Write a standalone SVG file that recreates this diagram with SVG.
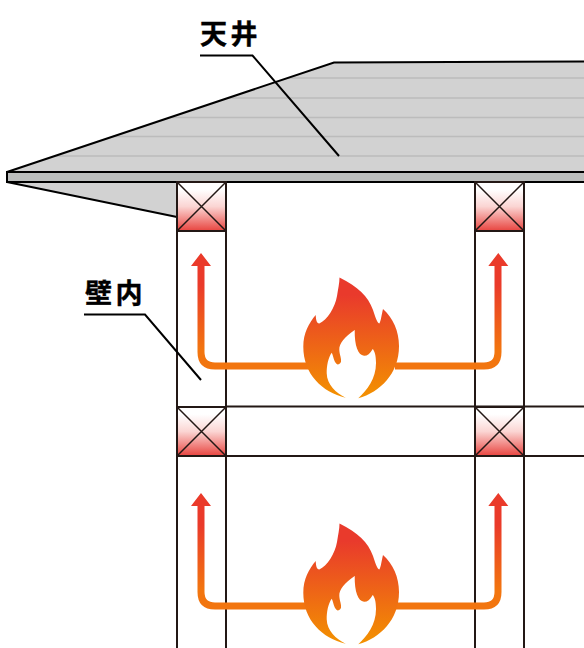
<svg xmlns="http://www.w3.org/2000/svg" xmlns:xlink="http://www.w3.org/1999/xlink" width="584" height="648" viewBox="0 0 584 648">
<style>
.roof{fill:#d2d2d2;stroke:#000;stroke-width:2;stroke-linejoin:miter}
.roofline{fill:none;stroke:#000;stroke-width:2;stroke-linejoin:miter}
.band{fill:#bcbebd;stroke:#000;stroke-width:2}
.seam{stroke:#bcbcbc;stroke-width:1.5;fill:none}
.wall{stroke:#231815;stroke-width:2;fill:none}
.post{fill:url(#postFill);stroke:#231815;stroke-width:2}
.cross{stroke:#231815;stroke-width:1.5;fill:none}
.leader{stroke:#000;stroke-width:2;fill:none}
.label{font-family:"Noto Sans CJK JP","Noto Sans",sans-serif;font-weight:700;font-size:27px;letter-spacing:3.500px;fill:#000;stroke:#000;stroke-width:0.4px}
</style>
<defs>
<linearGradient id="postFill" x1="0" y1="0" x2="0" y2="1"><stop offset="0.15" stop-color="#fff"/><stop offset="0.5" stop-color="#fbd5d3"/><stop offset="1" stop-color="#e8443f"/></linearGradient>
<linearGradient id="flameFill" gradientUnits="userSpaceOnUse" x1="0" y1="295" x2="0" y2="398"><stop offset="0" stop-color="#e93a2c"/><stop offset="1" stop-color="#f39200"/></linearGradient>
<linearGradient id="flowUp1" gradientUnits="userSpaceOnUse" x1="0" y1="285" x2="0" y2="350"><stop offset="0" stop-color="#ea3a2a"/><stop offset="1" stop-color="#f2750f"/></linearGradient>
<linearGradient id="flowUp2" gradientUnits="userSpaceOnUse" x1="0" y1="525" x2="0" y2="590"><stop offset="0" stop-color="#ea3a2a"/><stop offset="1" stop-color="#f2750f"/></linearGradient>
<g id="post"><rect class="post" x="177" y="0" width="49" height="49"/><path class="cross" d="M177 0L226 49M226 0L177 49"/></g>
<path id="flameShape" fill="url(#flameFill)" fill-rule="evenodd" d="M339.5 277.5C358 287 368 296 373 310C375 316 377 323 379.3 323.5C381 321 381.5 315 383 309C393 318 399 331 399 346C399 374 380 392 358.3 398.3C367 390 376 379 376 363C376 355 374.5 351 372.7 349C370 354 367 356 364 355.8C358 355 354.5 346 354.7 330C345 337 339 343 339.3 350C339.6 355 341.5 358 341 361.7C340 364.5 337.5 365 336.7 364C333.5 361 333.5 356 331.7 352.7C328 358 326.7 366 326.7 373.3C327 385 336 393 345.7 397.7C322 392 303.3 374 303.3 346.7C303.3 333 309 323 315.7 315C316 320 316.5 323 319.3 323.5C327 320 335 308 337 296C338 289 339.5 283 339.5 277.5Z"/>
</defs>
<g id="roof">
<path d="M7 172L334 62.500L585 61.500V172Z" fill="#d2d2d2"/>
<path class="seam" d="M288 78H584M228 98H584M170 117.500H584M113 136.500H584M55 156H584"/>
<path class="roofline" d="M7 172L334 62.500L585 61.500"/>
<path class="roof" d="M7 182L177 217V182Z"/>
<rect class="band" x="7" y="172" width="579" height="10"/>
</g>
<g id="connectors">
<path class="wall" d="M177 231V648M226 231V648M475 231V648M524 231V648"/>
<path class="wall" d="M226 406.500H584M226 456H584"/>
<path class="leader" d="M200 55.500H252.500L339 156"/>
<path class="leader" d="M84 314.500H145L201 380"/>
<path fill="none" stroke="url(#flowUp1)" stroke-width="7" d="M201 264V352Q201 366 215 366H310M498 264V352Q498 366 484 366H395"/>
<path fill="#ea3a2a" d="M201 253L211 266H191ZM498.300 253L508.300 266H488.300Z"/>
<path fill="none" stroke="url(#flowUp2)" stroke-width="7" d="M201 504V592Q201 606 215 606H310M498 504V592Q498 606 484 606H395"/>
<path fill="#ea3a2a" d="M201 493L211 506H191ZM498.300 493L508.300 506H488.300Z"/>
</g>
<g id="post-top-left"><use xlink:href="#post" href="#post" y="182"/></g>
<g id="post-top-right"><use xlink:href="#post" href="#post" x="298" y="182"/></g>
<g id="post-mid-left"><use xlink:href="#post" href="#post" y="407"/></g>
<g id="post-mid-right"><use xlink:href="#post" href="#post" x="298" y="407"/></g>
<g id="flame-upper"><use xlink:href="#flameShape" href="#flameShape"/></g>
<g id="flame-lower"><use xlink:href="#flameShape" href="#flameShape" y="246"/></g>
<g id="label-ceiling"><text class="label" x="200" y="44">天井</text></g>
<g id="label-wall"><text class="label" x="85" y="303">壁内</text></g>
</svg>
